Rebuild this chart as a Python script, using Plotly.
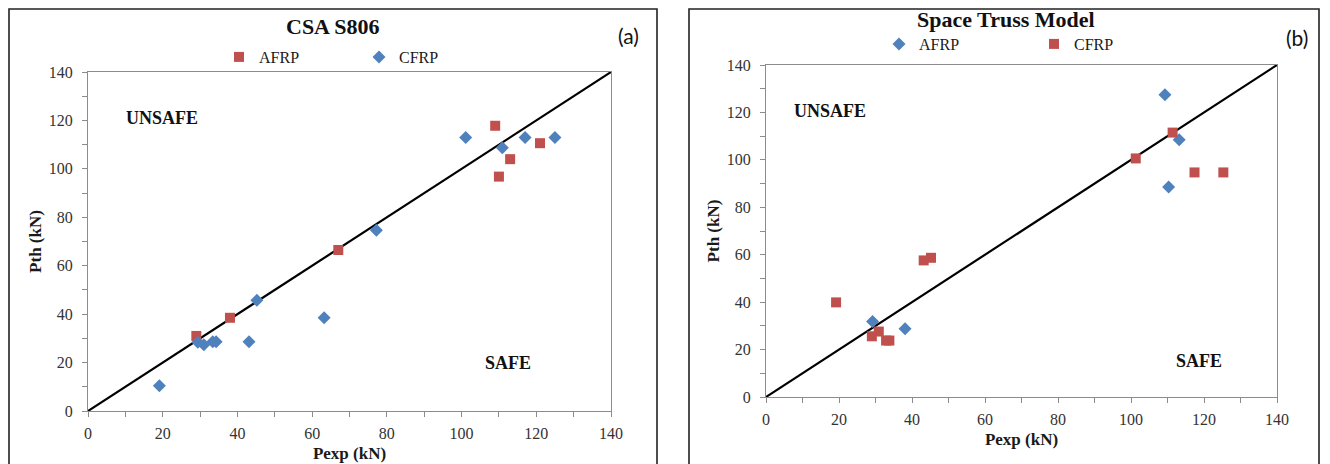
import plotly.graph_objects as go

# the page body adds an 8 px margin, so the figure is 8 px smaller and shifted
OFF = 8
W, H = 1330 - OFF, 464 - OFF

# ---------------- data: panel (a) CSA S806 ----------------
a_afrp_x = [29.0, 38.0, 67.0, 109.0, 110.0, 113.0, 121.0]
a_afrp_y = [31.0, 38.5, 66.5, 117.8, 96.8, 104.0, 110.6]
a_cfrp_x = [19.1, 29.4, 31.0, 33.4, 34.3, 43.1, 45.2, 63.2, 77.2, 101.1, 110.9, 117.0, 125.0]
a_cfrp_y = [10.4, 28.4, 27.4, 28.6, 28.6, 28.6, 45.7, 38.5, 74.6, 112.9, 108.7, 112.9, 112.9]

# ---------------- data: panel (b) Space Truss Model ----------------
b_afrp_x = [29.2, 38.1, 109.3, 110.3, 113.2]
b_afrp_y = [31.8, 28.8, 127.5, 88.6, 108.5]
b_cfrp_x = [19.2, 29.0, 30.9, 32.9, 33.8, 43.2, 45.2, 101.3, 111.4, 117.4, 125.3]
b_cfrp_y = [39.9, 25.6, 27.6, 23.8, 23.8, 57.6, 58.7, 100.6, 111.5, 94.7, 94.7]

line_xy = [0, 140]
ticks = [0, 20, 40, 60, 80, 100, 120, 140]

RED = "#C0504D"
BLUE = "#4F81BD"
SERIF = "Liberation Serif, Times New Roman, serif"

def px(x):
    return (x - OFF) / W

def py(y):
    return 1 - (y - OFF) / H

fig = go.Figure()

# panel (a)
fig.add_trace(go.Scatter(x=line_xy, y=line_xy, mode="lines", line=dict(color="black", width=2.2),
                         showlegend=False, xaxis="x", yaxis="y", hoverinfo="skip"))
fig.add_trace(go.Scatter(x=a_afrp_x, y=a_afrp_y, mode="markers", name="AFRP",
                         marker=dict(symbol="square", size=10, color=RED),
                         xaxis="x", yaxis="y", legend="legend"))
fig.add_trace(go.Scatter(x=a_cfrp_x, y=a_cfrp_y, mode="markers", name="CFRP",
                         marker=dict(symbol="diamond", size=10, color=BLUE),
                         xaxis="x", yaxis="y", legend="legend"))

# panel (b)
fig.add_trace(go.Scatter(x=line_xy, y=line_xy, mode="lines", line=dict(color="black", width=2.2),
                         showlegend=False, xaxis="x2", yaxis="y2", hoverinfo="skip"))
fig.add_trace(go.Scatter(x=b_afrp_x, y=b_afrp_y, mode="markers", name="AFRP",
                         marker=dict(symbol="diamond", size=10, color=BLUE),
                         xaxis="x2", yaxis="y2", legend="legend2"))
fig.add_trace(go.Scatter(x=b_cfrp_x, y=b_cfrp_y, mode="markers", name="CFRP",
                         marker=dict(symbol="square", size=10, color=RED),
                         xaxis="x2", yaxis="y2", legend="legend2"))

axis_common = dict(
    range=[0, 140], tickmode="array", tickvals=ticks, ticktext=[str(t) for t in ticks],
    showgrid=False, zeroline=False, showline=True, linecolor="#8c8c8c", linewidth=1,
    mirror=True, ticks="outside", ticklen=5, tickcolor="#8c8c8c", tickwidth=1,
    minor=dict(ticks="outside", ticklen=5, tickcolor="#8c8c8c", dtick=10, tick0=0),
    tickfont=dict(family=SERIF, size=16, color="#333333"),
    fixedrange=True, automargin=False,
)
xaxis_common = dict(axis_common, ticklabelstandoff=3)
yaxis_common = dict(axis_common, ticklabelstandoff=6)

title_font = dict(family=SERIF, size=17, color="#1a1a1a")

fig.update_layout(
    width=W, height=H,
    margin=dict(l=0, r=0, t=0, b=0, autoexpand=False),
    paper_bgcolor="white", plot_bgcolor="white",
    xaxis=dict(xaxis_common, domain=[px(88), px(611)], anchor="y",
               title=dict(text="<b>Pexp (kN)</b>", font=title_font, standoff=5)),
    yaxis=dict(yaxis_common, domain=[py(411), py(72)], anchor="x",
               title=dict(text="<b>Pth (kN)</b>", font=title_font, standoff=2)),
    xaxis2=dict(xaxis_common, domain=[px(766), px(1277)], anchor="y2",
                title=dict(text="<b>Pexp (kN)</b>", font=title_font, standoff=5)),
    yaxis2=dict(yaxis_common, domain=[py(397), py(65)], anchor="x2",
                title=dict(text="<b>Pth (kN)</b>", font=title_font, standoff=2)),
    legend=dict(orientation="h", x=px(219), y=py(57), xanchor="left", yanchor="middle",
                font=dict(family=SERIF, size=16, color="#1a1a1a"),
                entrywidth=95, entrywidthmode="pixels", itemwidth=30,
                bgcolor="rgba(0,0,0,0)", borderwidth=0),
    legend2=dict(orientation="h", x=px(879), y=py(44), xanchor="left", yanchor="middle",
                 font=dict(family=SERIF, size=16, color="#1a1a1a"),
                 entrywidth=110, entrywidthmode="pixels", itemwidth=30,
                 bgcolor="rgba(0,0,0,0)", borderwidth=0),
    showlegend=True,
)

annotations = [
    dict(text="<b>CSA S806</b>", x=px(333), y=py(27), font=dict(family=SERIF, size=22, color="#111")),
    dict(text="<b>Space Truss Model</b>", x=px(1006), y=py(20), font=dict(family=SERIF, size=22, color="#111")),
    dict(text="(a)", x=px(628), y=py(36), font=dict(family="Lato", size=21, color="#111")),
    dict(text="(b)", x=px(1297), y=py(37), font=dict(family="Lato", size=21, color="#111")),
    dict(text="<b>UNSAFE</b>", x=px(162), y=py(118), font=dict(family=SERIF, size=18, color="#111")),
    dict(text="<b>SAFE</b>", x=px(508), y=py(363), font=dict(family=SERIF, size=18, color="#111")),
    dict(text="<b>UNSAFE</b>", x=px(830), y=py(111), font=dict(family=SERIF, size=18, color="#111")),
    dict(text="<b>SAFE</b>", x=px(1199), y=py(361), font=dict(family=SERIF, size=18, color="#111")),
]
for a in annotations:
    a.update(xref="paper", yref="paper", showarrow=False, xanchor="center", yanchor="middle")
fig.update_layout(annotations=annotations)

# panel frames
fig.add_shape(type="rect", xref="paper", yref="paper", x0=px(9), x1=px(657), y0=py(480), y1=py(9),
              line=dict(color="#222", width=1.6), layer="below")
fig.add_shape(type="rect", xref="paper", yref="paper", x0=px(689), x1=px(1319), y0=py(480), y1=py(9),
              line=dict(color="#222", width=1.6), layer="below")

fig.write_html("out.html")
